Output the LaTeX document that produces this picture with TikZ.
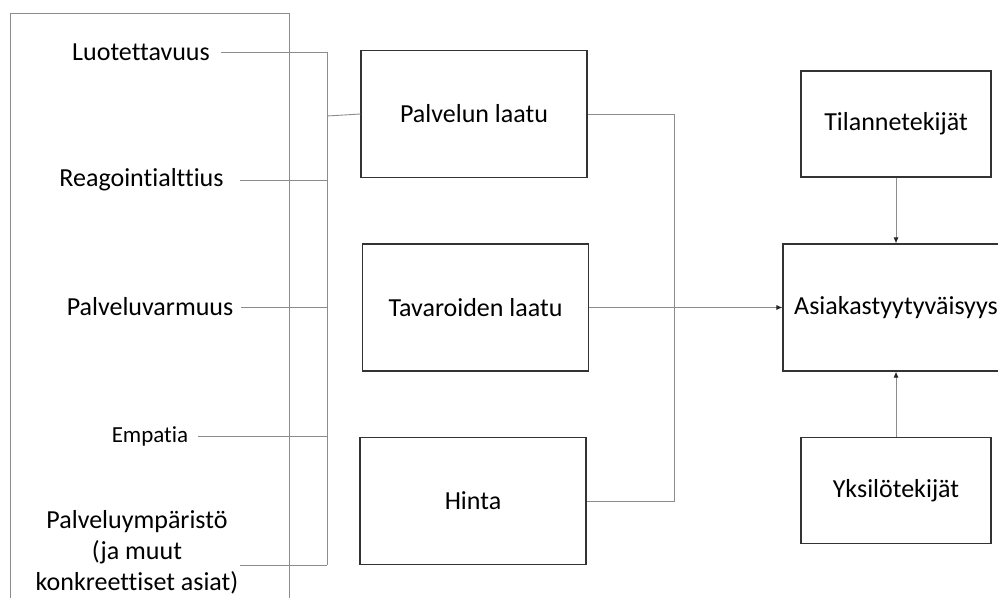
\documentclass[tikz,border=0pt]{standalone}
\usepackage{fontspec}
\setmainfont[Ligatures={NoCommon}]{Carlito}
\usetikzlibrary{arrows.meta}
\begin{document}
\begin{tikzpicture}[x=1pt,y=-1pt,
  box/.style={draw=black!80,line width=1.1pt,minimum width=226pt,minimum height=127pt,inner sep=0pt,font=\fontsize{26}{31}\selectfont},
  smallbox/.style={box,minimum width=190pt,minimum height=106pt},
  lbl/.style={align=center,inner sep=0pt,font=\fontsize{26}{31}\selectfont},
  wire/.style={draw=black!45,line width=0.9pt},
  arr/.style={wire,-{Latex[length=6pt,width=5pt,color=black!85]}}]
  \useasboundingbox (0,0) rectangle (998,597);
  \draw[wire] (10,610) -- (10,13) -- (289,13) -- (289,610);
  \node[box] (pal) at (474,114) {Palvelun laatu};
  \node[box] (tav) at (475.5,307.5) {Tavaroiden laatu};
  \node[box] (hin) at (473,501) {Hinta};
  \node[box] (asi) at (896,307.5) {Asiakastyytyväisyys};
  \node[smallbox] (til) at (896,124) {Tilannetekijät};
  \node[smallbox] (yks) at (896,490.5) {Yksilötekijät};
  \node[lbl] (luo) at (141,52) {Luotettavuus};
  \node[lbl] (rea) at (141.5,180) {Reagointialttius};
  \node[lbl] (pvm) at (150,307) {Palveluvarmuus};
  \node[lbl,font=\fontsize{23}{28}\selectfont] (emp) at (150,436) {Empatia};
  \node[lbl] (pym) at (137,552) {Palveluympäristö\\(ja muut\\konkreettiset asiat)};
  \coordinate (bus) at (327,0);
  \coordinate (join) at (327,116);
  \coordinate (pymend) at (240,565);
  \coordinate (rbus) at (674,0);
  \draw[wire] ([xshift=11pt]luo.east) -- (luo -| bus);
  \draw[wire] ([xshift=16pt]rea.east) -- (rea -| bus);
  \draw[wire] ([xshift=8pt]pvm.east) -- (pvm -| bus);
  \draw[wire] ([xshift=10pt]emp.east) -- (emp -| bus);
  \draw[wire] (pymend) -- (pymend -| bus);
  \draw[wire] (luo -| bus) -- (pymend -| bus);
  \draw[wire] (join) -- (pal.west);
  \draw[wire] (pal.east) -- (pal.east -| rbus) -- (hin.east -| rbus) -- (hin.east);
  \draw[arr] (tav.east) -- (asi.west);
  \draw[arr] (til.south) -- (asi.north);
  \draw[arr] (yks.north) -- (asi.south);
\end{tikzpicture}
\end{document}
